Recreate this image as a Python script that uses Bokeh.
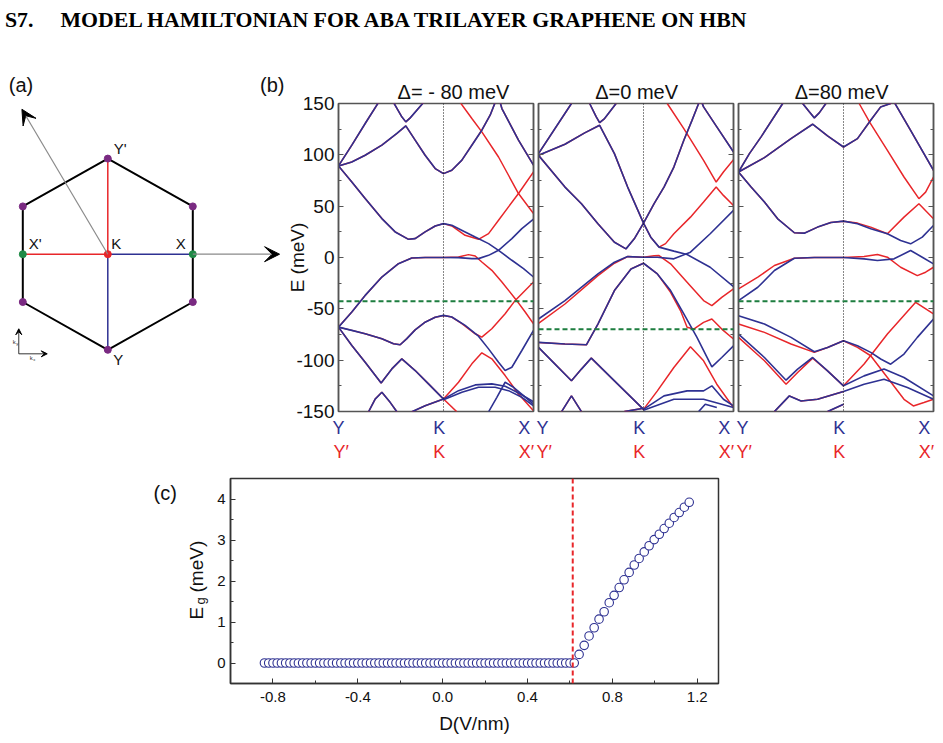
from bokeh.plotting import figure
from bokeh.models import (Range1d, LinearAxis, FixedTicker, Span, Label, Arrow,
                          VeeHead, Div, PrintfTickFormatter)
from bokeh.layouts import row, column
from bokeh.embed import file_html
from bokeh.resources import INLINE

BLUE = "#2e3192"
RED = "#e8262a"
GREEN = "#1d7d3f"
PURPLE = "#7a2a82"
DOTGREEN = "#1f8a46"
FONT = "Liberation Sans"

# ---------------- (a) Brillouin-zone sketch (k-space units) ----------------
hex_x = [0.0, 0.866, 0.866, 0.0, -0.866, -0.866, 0.0]
hex_y = [1.0, 0.5, -0.5, -1.0, -0.5, 0.5, 1.0]
corner_x = [0.0, 0.866, 0.866, 0.0, -0.866, -0.866]
corner_y = [1.0, 0.5, -0.5, -1.0, -0.5, 0.5]
mid_x = [0.866, -0.866]
mid_y = [0.0, 0.0]
path_red_x = [[0.0, 0.0], [0.0, -0.866]]
path_red_y = [[0.0, 1.0], [0.0, 0.0]]
path_blue_x = [[0.0, 0.866], [0.0, 0.0]]
path_blue_y = [[0.0, 0.0], [0.0, -1.0]]
recip_start = [(0.0, 0.0), (0.866, 0.0)]
recip_tip = [(-0.875, 1.516), (1.75, 0.0)]
kaxes_origin = (-0.907, -1.042)
kaxes_tips = [(-0.907, -0.780), (-0.617, -1.042)]

# ---------------- (b) band structures: (k, E[meV]); Y=-1, K=0, X=0.857 ----------------
E_ticks = [-150, -100, -50, 0, 50, 100, 150]
E_minor = [-125, -75, -25, 25, 75, 125]
titles = ["\u0394= - 80 meV", "\u0394=0 meV", "\u0394=80 meV"]

# Delta = -80 meV
p1_L1 = ([-1.0, -0.873, -0.746, -0.619], [89.2, 109.4, 130.5, 151.0])
p1_L2 = ([-0.476, -0.397, -0.359, -0.317, -0.190], [151.0, 137.0, 132.1, 136.0, 151.0])
p1_L3_left = ([-1.0, -0.873, -0.746, -0.587, -0.444, -0.359, -0.270, -0.175, -0.079, 0.0],
              [89.2, 93.1, 99.6, 109.4, 120.8, 128.2, 114.3, 99.6, 86.6, 81.7])
p1_L3_right = ([0.079, 0.175, 0.270, 0.365, 0.444, 0.492, 0.524, 0.556, 0.714, 0.857],
               [85.0, 94.8, 109.4, 124.0, 138.6, 151.0, 156.5, 145.1, 114.3, 90.0])
p1_L4_left = ([-1.0, -0.873, -0.746, -0.587, -0.460, -0.333, -0.270, -0.175, -0.079, 0.0],
              [89.2, 73.6, 57.4, 37.9, 24.9, 17.7, 18.4, 24.9, 30.7, 33.0])
p1_L4_right_blue = ([0.079, 0.206, 0.302, 0.429, 0.524, 0.651, 0.762, 0.857],
                    [31.4, 24.9, 19.9, 13.5, 7.0, -2.7, -10.9, -19.0])
p1_L4_right_red = ([0.079, 0.206, 0.333, 0.429, 0.524, 0.619, 0.714, 0.857],
                   [30.7, 21.6, 17.7, 23.3, 36.3, 49.3, 62.3, 83.4])
p1_Ra = ([0.159, 0.270, 0.365, 0.524, 0.619, 0.714, 0.857],
         [151.0, 135.4, 122.4, 97.9, 80.1, 62.3, 42.8])
p1_L5_left = ([-1.0, -0.873, -0.746, -0.587, -0.429, -0.302, -0.175, 0.0],
              [-67.8, -53.1, -36.9, -19.0, -6.0, -0.5, 0.0, 0.0])
p1_L5_right_blue = ([0.143, 0.270, 0.333, 0.429, 0.524, 0.651, 0.746, 0.857],
                    [-0.1, -1.1, -1.1, 2.1, 7.0, 18.4, 28.1, 37.3])
p1_L5_right_red = ([0.143, 0.238, 0.302, 0.365, 0.460, 0.556, 0.683, 0.778, 0.857],
                   [0.5, 2.8, 1.5, -4.4, -12.5, -23.9, -40.1, -53.1, -64.5])
p1_L6_left = ([-1.0, -0.873, -0.746, -0.587, -0.476, -0.413, -0.349, -0.270, -0.175, -0.079, 0.0],
              [-67.8, -71.0, -74.3, -79.2, -84.0, -85.0, -79.0, -70.5, -63.0, -58.2, -56.4])
p1_L6_right_blue = ([0.079, 0.206, 0.333, 0.429, 0.524, 0.587, 0.651, 0.746, 0.857],
                    [-58.0, -66.1, -76.6, -89.0, -102.0, -110.1, -106.9, -90.6, -71.0])
p1_L6_right_red = ([0.079, 0.175, 0.302, 0.365, 0.460, 0.587, 0.676, 0.857],
                   [-58.0, -64.5, -74.3, -77.5, -69.4, -54.8, -42.7, -23.9])
p1_L7_left = ([-1.0, -0.873, -0.746, -0.594, -0.492, -0.397, -0.270, -0.143, 0.0],
              [-67.8, -85.7, -102.0, -122.2, -108.5, -98.7, -110.1, -123.1, -137.9])
p1_L7_right_red = ([0.143, 0.270, 0.365, 0.460, 0.587, 0.714, 0.857],
                   [-121.5, -103.6, -92.8, -98.7, -115.0, -133.0, -149.3])
p1_L7_right_blue = ([0.143, 0.302, 0.460, 0.587, 0.714, 0.857],
                    [-129.7, -124.1, -123.1, -125.4, -132.0, -140.5])
p1_B2 = ([0.0, 0.175, 0.333, 0.492, 0.619, 0.746, 0.857],
         [-138.5, -131.3, -126.4, -126.4, -129.7, -136.2, -144.4])
p1_B3 = ([0.429, 0.508, 0.587, 0.667, 0.762, 0.857],
         [-150.3, -136.2, -121.5, -126.4, -134.6, -142.8])
p1_L8 = ([-0.714, -0.651, -0.587, -0.508, -0.444], [-150.3, -137.9, -131.3, -141.1, -150.3])
p1_L9 = ([-0.302, -0.175, 0.0], [-150.3, -144.4, -137.9])
p1_Rlow = ([0.0, 0.127], [-137.9, -150.3])
p1_fermi = -42.7

# Delta = 0 meV
p2_M1 = ([-1.0, -0.843, -0.686], [101.2, 125.6, 150.0])
p2_M2 = ([-0.513, -0.450, -0.418, -0.371, -0.261], [150.0, 137.0, 131.4, 135.3, 150.0])
p2_M3_left = ([-1.0, -0.748, -0.560, -0.418, -0.277, -0.151, 0.0, 0.069, 0.148],
              [99.5, 110.3, 121.4, 128.8, 101.2, 68.6, 33.5, 19.8, 10.1])
p2_M3_right_blue = ([0.289, 0.415, 0.635, 0.857], [6.2, 2.9, -9.5, -28.3])
p2_M3_right_red = ([0.210, 0.289, 0.447, 0.572, 0.692, 0.761, 0.857],
                   [13.5, 23.1, 39.3, 54.0, 68.6, 60.5, 50.7])
p2_M4_left = ([-1.0, -0.748, -0.591, -0.434, -0.277, -0.167, -0.088, 0.0],
              [99.5, 68.6, 52.4, 32.8, 14.9, 8.4, 18.2, 33.5])
p2_M4_right = ([0.101, 0.195, 0.289, 0.384, 0.462, 0.525, 0.547, 0.572, 0.698, 0.857],
               [52.4, 68.6, 88.1, 114.2, 133.6, 150.0, 153.2, 146.7, 127.2, 102.8])
p2_Rv = ([0.226, 0.384, 0.572, 0.692, 0.761, 0.857], [150.0, 125.6, 94.6, 73.5, 83.3, 95.3])
p2_L5_left_blue = ([-1.0, -0.748, -0.434, -0.277, -0.151, 0.0], [-59.9, -42.0, -16.0, -4.6, 0.9, 0.3])
p2_L5_left_red = ([-1.0, -0.748, -0.434, -0.277, -0.151, 0.0], [-64.1, -45.3, -17.6, -5.6, 0.9, 0.3])
p2_L5_right_blue = ([0.132, 0.289, 0.447, 0.635, 0.857], [0.3, -1.3, 5.2, 23.1, 45.9])
p2_L5_right_red = ([0.101, 0.148, 0.258, 0.415, 0.572, 0.651, 0.745, 0.857],
                   [1.6, 1.9, -6.2, -24.1, -42.0, -46.9, -38.8, -30.6])
p2_L6_left = ([-1.0, -0.748, -0.544, -0.434, -0.277, -0.119, 0.0],
              [-82.7, -84.3, -85.0, -64.8, -32.2, -11.1, -5.6])
p2_L6_right_blue = ([0.132, 0.258, 0.384, 0.509, 0.651, 0.745, 0.857],
                    [-16.0, -32.2, -55.0, -77.8, -106.5, -97.4, -86.0])
p2_L6_right_red = ([0.132, 0.258, 0.352, 0.415, 0.478, 0.572, 0.651, 0.745, 0.857],
                   [-16.0, -33.9, -51.7, -68.0, -69.7, -63.2, -59.9, -69.7, -79.4])
p2_L7 = ([-1.0, -0.843, -0.686, -0.591, -0.497, -0.245, 0.0],
         [-87.6, -103.8, -120.1, -108.7, -98.0, -123.4, -147.9])
p2_L8 = ([-0.780, -0.686, -0.591], [-150.1, -134.8, -150.1])
p2_L9 = ([-0.182, 0.0], [-150.1, -146.8])
p2_Rlow = ([0.0, 0.132, 0.289, 0.447, 0.572, 0.698, 0.857],
           [-147.9, -129.9, -107.1, -87.0, -100.6, -123.4, -146.2])
p2_B1 = ([0.0, 0.195, 0.415, 0.572, 0.651, 0.761, 0.857],
         [-147.9, -134.8, -129.9, -129.9, -125.0, -138.1, -144.6])
p2_B2 = ([0.0, 0.289, 0.572, 0.857], [-148.8, -138.1, -138.1, -146.2])
p2_B3 = ([0.525, 0.588, 0.698], [-150.1, -143.0, -146.2])
p2_fermi = -70.0

# Delta = 80 meV
p3_N1 = ([-1.0, -0.896, -0.785, -0.579], [83.3, 101.2, 117.5, 150.0])
p3_N2 = ([-0.389, -0.326, -0.278, -0.231, -0.168], [150.0, 141.9, 136.0, 140.9, 150.0])
p3_N3_left = ([-1.0, -0.753, -0.5, -0.294, -0.152, 0.0], [83.3, 97.3, 115.8, 129.8, 118.4, 107.6])
p3_N3_right = ([0.133, 0.259, 0.354, 0.449, 0.472, 0.639, 0.857],
               [115.8, 133.7, 146.7, 150.0, 153.2, 123.9, 84.9])
p3_Rlong = ([0.149, 0.253, 0.418, 0.576, 0.718, 0.782, 0.857],
            [150.0, 131.1, 104.4, 78.4, 57.3, 63.7, 78.4])
p3_L4_left = ([-1.0, -0.880, -0.753, -0.627, -0.468, -0.373, -0.247, -0.120, 0.0],
              [83.3, 68.7, 54.0, 37.7, 24.1, 23.7, 29.6, 34.1, 35.4])
p3_L4_right_blue = ([0.133, 0.259, 0.418, 0.544, 0.639, 0.750, 0.857],
                    [32.8, 28.0, 23.1, 16.6, 13.3, 19.8, 31.2])
p3_L4_right_red = ([0.133, 0.259, 0.418, 0.576, 0.718, 0.857],
                   [33.5, 29.6, 23.1, 39.3, 52.4, 37.7])
p3_L5_left_blue = ([-1.0, -0.816, -0.658, -0.468, -0.278, 0.0], [-42.0, -29.0, -12.7, -0.7, 0.0, 0.0])
p3_L5_left_red = ([-1.0, -0.816, -0.658, -0.468, -0.278, 0.0], [-30.6, -19.2, -7.8, -0.7, 0.0, 0.0])
p3_L5_right_blue = ([0.196, 0.323, 0.481, 0.639, 0.750, 0.857], [-1.3, -2.9, -1.3, 6.8, 0.3, -6.2])
p3_L5_right_red = ([0.196, 0.323, 0.418, 0.544, 0.703, 0.782, 0.857],
                   [0.9, 2.9, 0.3, -9.5, -17.6, -14.3, -9.5])
p3_L6_left_blue = ([-1.0, -0.753, -0.5, -0.278, -0.152, 0.0], [-56.7, -64.8, -77.8, -91.8, -87.6, -81.1])
p3_L6_left_red = ([-1.0, -0.753, -0.5, -0.278, -0.152, 0.0], [-64.8, -72.9, -84.3, -92.4, -87.6, -81.1])
p3_L6_right_blue = ([0.133, 0.259, 0.354, 0.449, 0.576, 0.703, 0.857],
                    [-86.0, -92.4, -98.9, -103.9, -94.1, -77.8, -59.9])
p3_L6_right_red = ([0.133, 0.259, 0.418, 0.576, 0.665, 0.766, 0.857],
                   [-87.6, -95.7, -116.9, -138.1, -144.6, -141.3, -138.1])
p3_L7_left_blue = ([-1.0, -0.753, -0.547, -0.437, -0.294, -0.152, 0.0],
                   [-74.6, -97.4, -119.5, -108.7, -97.4, -110.4, -125.0])
p3_L7_left_red = ([-1.0, -0.753, -0.547, -0.437, -0.294, -0.152, 0.0],
                  [-77.8, -100.6, -123.4, -112.0, -98.0, -110.4, -125.0])
p3_L7_right_red = ([0.196, 0.418, 0.687, 0.857], [-103.8, -74.5, -43.6, -55.0])
p3_L7_right_blue = ([0.196, 0.386, 0.576, 0.857], [-115.3, -108.7, -116.9, -134.8])
p3_B2 = ([0.0, 0.196, 0.386, 0.608, 0.857], [-130.5, -123.4, -118.5, -126.6, -138.1])
p3_L8 = ([-0.658, -0.516, -0.405, -0.247, 0.0], [-150.1, -134.8, -139.7, -138.1, -130.5])
p3_L9 = ([-0.152, 0.0], [-150.1, -143.0])
p3_fermi = -42.5

# ---------------- (c) gap vs displacement field ----------------
D_flat = [-0.84, -0.82, -0.80, -0.78, -0.76, -0.74, -0.72, -0.70, -0.68, -0.66,
          -0.64, -0.62, -0.60, -0.58, -0.56, -0.54, -0.52, -0.50, -0.48, -0.46,
          -0.44, -0.42, -0.40, -0.38, -0.36, -0.34, -0.32, -0.30, -0.28, -0.26,
          -0.24, -0.22, -0.20, -0.18, -0.16, -0.14, -0.12, -0.10, -0.08, -0.06,
          -0.04, -0.02, 0.00, 0.02, 0.04, 0.06, 0.08, 0.10, 0.12, 0.14,
          0.16, 0.18, 0.20, 0.22, 0.24, 0.26, 0.28, 0.30, 0.32, 0.34,
          0.36, 0.38, 0.40, 0.42, 0.44, 0.46, 0.48, 0.50, 0.52, 0.54,
          0.56, 0.58, 0.60, 0.62]
Eg_flat = [0.0, 0.0, 0.0, 0.0, 0.0, 0.0, 0.0, 0.0, 0.0, 0.0,
           0.0, 0.0, 0.0, 0.0, 0.0, 0.0, 0.0, 0.0, 0.0, 0.0,
           0.0, 0.0, 0.0, 0.0, 0.0, 0.0, 0.0, 0.0, 0.0, 0.0,
           0.0, 0.0, 0.0, 0.0, 0.0, 0.0, 0.0, 0.0, 0.0, 0.0,
           0.0, 0.0, 0.0, 0.0, 0.0, 0.0, 0.0, 0.0, 0.0, 0.0,
           0.0, 0.0, 0.0, 0.0, 0.0, 0.0, 0.0, 0.0, 0.0, 0.0,
           0.0, 0.0, 0.0, 0.0, 0.0, 0.0, 0.0, 0.0, 0.0, 0.0,
           0.0, 0.0, 0.0, 0.0]
D_rise = [0.643, 0.667, 0.690, 0.714, 0.737, 0.761, 0.785, 0.808, 0.832, 0.855,
          0.879, 0.903, 0.926, 0.950, 0.973, 0.997, 1.021, 1.044, 1.068, 1.091,
          1.115, 1.139, 1.162]
Eg_rise = [0.21, 0.43, 0.66, 0.86, 1.07, 1.25, 1.47, 1.65, 1.84, 2.03,
           2.21, 2.39, 2.55, 2.71, 2.86, 3.01, 3.14, 3.28, 3.41, 3.55,
           3.67, 3.80, 3.92]
D_critical = 0.613
D_ticks = [-0.8, -0.4, 0.0, 0.4, 0.8, 1.2]
D_minor = [-0.6, -0.2, 0.2, 0.6, 1.0]
Eg_ticks = [0, 1, 2, 3, 4]
Eg_minor = [0.5, 1.5, 2.5, 3.5]


def join(a, b):
    return (list(a[0]) + list(b[0]), list(a[1]) + list(b[1]))


panel1_red = [p1_L1, p1_L2, join(p1_L3_left, p1_L3_right), join(p1_L4_left, p1_L4_right_red), p1_Ra,
              join(p1_L5_left, p1_L5_right_red), join(p1_L6_left, p1_L6_right_red),
              join(p1_L7_left, p1_L7_right_red), p1_L8, p1_L9, p1_Rlow]
panel1_blue = [p1_L1, p1_L2, join(p1_L3_left, p1_L3_right), join(p1_L4_left, p1_L4_right_blue),
               join(p1_L5_left, p1_L5_right_blue), join(p1_L6_left, p1_L6_right_blue),
               join(p1_L7_left, p1_L7_right_blue), p1_B2, p1_B3, p1_L8, p1_L9]
panel2_red = [p2_M1, p2_M2, join(p2_M3_left, p2_M3_right_red), join(p2_M4_left, p2_M4_right), p2_Rv,
              join(p2_L5_left_red, p2_L5_right_red), join(p2_L6_left, p2_L6_right_red),
              p2_L7, p2_L8, p2_L9, p2_Rlow]
panel2_blue = [p2_M1, p2_M2, join(p2_M3_left, p2_M3_right_blue), join(p2_M4_left, p2_M4_right),
               join(p2_L5_left_blue, p2_L5_right_blue), join(p2_L6_left, p2_L6_right_blue),
               p2_L7, p2_L8, p2_L9, p2_B1, p2_B2, p2_B3]
panel3_red = [p3_N1, p3_N2, join(p3_N3_left, p3_N3_right), p3_Rlong, join(p3_L4_left, p3_L4_right_red),
              join(p3_L5_left_red, p3_L5_right_red), join(p3_L6_left_red, p3_L6_right_red),
              join(p3_L7_left_red, p3_L7_right_red), p3_L8, p3_L9]
panel3_blue = [p3_N1, p3_N2, join(p3_N3_left, p3_N3_right), join(p3_L4_left, p3_L4_right_blue),
               join(p3_L5_left_blue, p3_L5_right_blue), join(p3_L6_left_blue, p3_L6_right_blue),
               join(p3_L7_left_blue, p3_L7_right_blue), p3_B2, p3_L8, p3_L9]

TOP = 34      # shared top border of the middle row
BOTTOM = 51   # shared bottom border of the middle row

# ---------------- header (title) ----------------
hdr = ('<div style="position:relative;width:943px;height:69px;">'
       '<div style="position:absolute;left:5px;top:9px;font-family:\'Liberation Serif\',serif;font-weight:bold;'
       'font-size:21.8px;line-height:22px;white-space:nowrap;color:#000;">S7.'
       '<span style="display:inline-block;width:27px"></span>'
       'MODEL HAMILTONIAN FOR ABA TRILAYER GRAPHENE ON HBN</div></div>')
header = Div(text=hdr, width=943, height=69, margin=0)

# ---------------- (a) figure ----------------
fa = figure(frame_width=284, frame_height=308, x_range=Range1d(-1.0932, 1.8003),
            y_range=Range1d(-1.6454, 1.5764), x_axis_type=None, y_axis_type=None,
            toolbar_location=None, output_backend="svg",
            min_border_left=0, min_border_right=0, min_border_top=TOP, min_border_bottom=BOTTOM)
fa.outline_line_color = None
# panel letters (a) and (b) carried by an unlined axis above the sketch
letter_pos = [-0.8843, 1.6772]
fa.add_layout(LinearAxis(ticker=FixedTicker(ticks=letter_pos),
                         major_label_overrides={letter_pos[0]: "(a)", letter_pos[1]: "(b)"},
                         major_tick_in=0, major_tick_out=0, axis_line_color=None,
                         major_label_text_font=FONT, major_label_text_font_size="20px",
                         major_label_text_color="#111111", major_label_standoff=8), "above")
for (xs, ys), (xe, ye) in zip(recip_start, recip_tip):
    fa.add_layout(Arrow(end=VeeHead(size=15, fill_color="black", line_color="black"),
                        x_start=xs, y_start=ys, x_end=xe, y_end=ye,
                        line_color="#8a8a8a", line_width=1.2))
fa.line(hex_x, hex_y, line_color="black", line_width=2)
fa.multi_line(path_red_x, path_red_y, line_color=RED, line_width=1.5)
fa.multi_line(path_blue_x, path_blue_y, line_color=BLUE, line_width=1.5)
fa.scatter(corner_x, corner_y, size=7, color=PURPLE)
fa.scatter(mid_x, mid_y, size=7, color=DOTGREEN)
fa.scatter([0.0], [0.0], size=7, color=RED)
for (xe, ye) in kaxes_tips:
    fa.add_layout(Arrow(end=VeeHead(size=6, fill_color="black", line_color="black"),
                        x_start=kaxes_origin[0], y_start=kaxes_origin[1], x_end=xe, y_end=ye,
                        line_color="black", line_width=0.8))
small = dict(text_font=FONT, text_font_size="6px", text_color="#333333")
tiny = dict(text_font=FONT, text_font_size="4px", text_color="#333333")
fa.add_layout(Label(x=kaxes_origin[0], y=kaxes_origin[1], x_offset=-6, y_offset=9, text="k", **small))
fa.add_layout(Label(x=kaxes_origin[0], y=kaxes_origin[1], x_offset=-2.5, y_offset=7.5, text="y", **tiny))
fa.add_layout(Label(x=kaxes_origin[0], y=kaxes_origin[1], x_offset=11, y_offset=-7, text="k", **small))
fa.add_layout(Label(x=kaxes_origin[0], y=kaxes_origin[1], x_offset=14.5, y_offset=-8.5, text="x", **tiny))
lab = dict(text_font=FONT, text_font_size="15px", text_color="#111111")
fa.add_layout(Label(x=0.0, y=1.0, x_offset=6, y_offset=1.5, text="Y'", text_baseline="bottom", **lab))
fa.add_layout(Label(x=0.0, y=0.0, x_offset=3.5, y_offset=2, text="K", text_baseline="bottom", **lab))
fa.add_layout(Label(x=-0.866, y=0.0, x_offset=6, y_offset=2, text="X'", text_baseline="bottom", **lab))
fa.add_layout(Label(x=0.866, y=0.0, x_offset=-7, y_offset=2, text="X", text_align="right",
                    text_baseline="bottom", **lab))
fa.add_layout(Label(x=0.0, y=-1.0, x_offset=5.5, y_offset=-1, text="Y", text_baseline="top", **lab))


# ---------------- (b) figures ----------------
def band_fig(border_l, border_r, reds, blues, fermi, title, title_k, with_labels):
    p = figure(frame_width=195, frame_height=308, x_range=Range1d(-1.0, 0.857), y_range=Range1d(-150, 150),
               x_axis_type=None, y_axis_type=None, toolbar_location=None, output_backend="svg",
               min_border_left=border_l, min_border_right=border_r, min_border_top=TOP,
               min_border_bottom=BOTTOM)
    p.outline_line_color = "#555555"
    p.outline_line_width = 1.5
    for side in ("left", "right"):
        ax = LinearAxis(ticker=FixedTicker(ticks=E_ticks, minor_ticks=E_minor),
                        formatter=PrintfTickFormatter(format="%d"),
                        axis_line_color="#555555", axis_line_width=1.5,
                        major_tick_in=5, major_tick_out=0, minor_tick_in=3, minor_tick_out=0,
                        major_tick_line_color="#555555", minor_tick_line_color="#555555")
        if side == "left" and with_labels:
            ax.major_label_text_font = FONT
            ax.major_label_text_font_size = "19px"
            ax.major_label_text_color = "#111111"
            ax.major_label_standoff = 4
            ax.axis_label = "E (meV)"
            ax.axis_label_text_font = FONT
            ax.axis_label_text_font_size = "19px"
            ax.axis_label_text_font_style = "normal"
            ax.axis_label_text_color = "#111111"
            ax.axis_label_standoff = -15
        else:
            ax.major_label_text_font_size = "1px"
            ax.major_label_text_color = None
            ax.major_label_standoff = 0
        p.add_layout(ax, side)
    # panel title carried by an unlined axis above the frame
    p.add_layout(LinearAxis(ticker=FixedTicker(ticks=[title_k]), major_label_overrides={title_k: title},
                            major_tick_in=0, major_tick_out=0, axis_line_color=None,
                            major_label_text_font=FONT, major_label_text_font_size="20px",
                            major_label_text_color="#111111", major_label_standoff=1), "above")
    # k-point labels under the panel (Y/K/X for one valley, Y'/K/X' for the other)
    for ticks, names, col, stand in (([-1.0, -0.04, 0.77], ["Y", "K", "X"], BLUE, 6),
                                     ([-0.975, -0.04, 0.79], ["Y\u2032", "K", "X\u2032"], RED, 1)):
        kax = LinearAxis(ticker=FixedTicker(ticks=ticks),
                         major_label_overrides={t: n for t, n in zip(ticks, names)},
                         major_tick_in=0, major_tick_out=0, axis_line_color=None,
                         major_label_text_font=FONT, major_label_text_font_size="18px",
                         major_label_text_color=col, major_label_standoff=stand)
        p.add_layout(kax, "below")
    p.add_layout(Span(location=0.0, dimension="height", line_color="#111111", line_dash="1 2", line_width=1))
    p.multi_line([b[0] for b in reds], [b[1] for b in reds], line_color=RED, line_width=1.5)
    p.multi_line([b[0] for b in blues], [b[1] for b in blues], line_color=BLUE, line_width=1.6)
    p.add_layout(Span(location=fermi, dimension="width", line_color=GREEN, line_dash="5 3", line_width=2))
    return p


fb1 = band_fig(53, 3, panel1_red, panel1_blue, p1_fermi, titles[0], 0.095, True)
fb2 = band_fig(2, 3, panel2_red, panel2_blue, p2_fermi, titles[1], -0.066, False)
fb3 = band_fig(2, 11, panel3_red, panel3_blue, p3_fermi, titles[2], -0.018, False)

# ---------------- (c) label strip + figure ----------------
fl = figure(frame_width=212, frame_height=205, x_range=Range1d(0, 212), y_range=Range1d(0, 205),
            x_axis_type=None, y_axis_type=None, toolbar_location=None, output_backend="svg",
            min_border_left=0, min_border_right=0, min_border_top=14, min_border_bottom=62)
fl.outline_line_color = None
fl.add_layout(Label(x=153, y=191, text="(c)", text_baseline="alphabetic", text_font=FONT,
                    text_font_size="20px", text_color="#111111"))
elab = dict(angle=90, angle_units="deg", text_baseline="middle", text_align="left",
            text_font=FONT, text_color="#111111")
fl.add_layout(Label(x=195.5, y=64, text="E", text_font_size="19px", **elab))
fl.add_layout(Label(x=200, y=79, text="g", text_font_size="13px", **elab))
fl.add_layout(Label(x=195.5, y=91, text="(meV)", text_font_size="19px", **elab))

fc = figure(frame_width=488, frame_height=205, x_range=Range1d(-1.0, 1.3), y_range=Range1d(-0.5, 4.5),
            x_axis_type=None, y_axis_type=None, toolbar_location=None, output_backend="svg",
            min_border_left=18, min_border_right=10, min_border_top=14, min_border_bottom=62)
fc.outline_line_color = "#333333"
fc.outline_line_width = 1.5
xax = LinearAxis(ticker=FixedTicker(ticks=D_ticks, minor_ticks=D_minor),
                 formatter=PrintfTickFormatter(format="%.1f"),
                 axis_label="D(V/nm)", axis_label_text_font=FONT, axis_label_text_font_size="19px",
                 axis_label_text_font_style="normal", axis_label_text_color="#111111", axis_label_standoff=8,
                 major_label_text_font=FONT, major_label_text_font_size="15px", major_label_text_color="#111111",
                 major_label_standoff=8, axis_line_color="#333333", axis_line_width=1.5,
                 major_tick_in=5, major_tick_out=0, minor_tick_in=3, minor_tick_out=0,
                 major_tick_line_color="#333333", minor_tick_line_color="#333333")
fc.add_layout(xax, "below")
yax = LinearAxis(ticker=FixedTicker(ticks=Eg_ticks, minor_ticks=Eg_minor),
                 formatter=PrintfTickFormatter(format="%d"),
                 major_label_text_font=FONT, major_label_text_font_size="15px", major_label_text_color="#111111",
                 major_label_standoff=5, axis_line_color="#333333", axis_line_width=1.5,
                 major_tick_in=5, major_tick_out=0, minor_tick_in=3, minor_tick_out=0,
                 major_tick_line_color="#333333", minor_tick_line_color="#333333")
fc.add_layout(yax, "left")
fc.add_layout(Span(location=D_critical, dimension="height", line_color=RED, line_dash="5 3", line_width=2))
fc.scatter(D_flat + D_rise, Eg_flat + Eg_rise, marker="circle", size=8.5, line_color=BLUE,
           fill_color="white", line_width=1.1)

layout = column(header,
                row(fa, fb1, fb2, fb3, spacing=0),
                row(fl, fc, spacing=0),
                spacing=0)

with open("out.html", "w") as f:
    f.write(file_html(layout, INLINE))
